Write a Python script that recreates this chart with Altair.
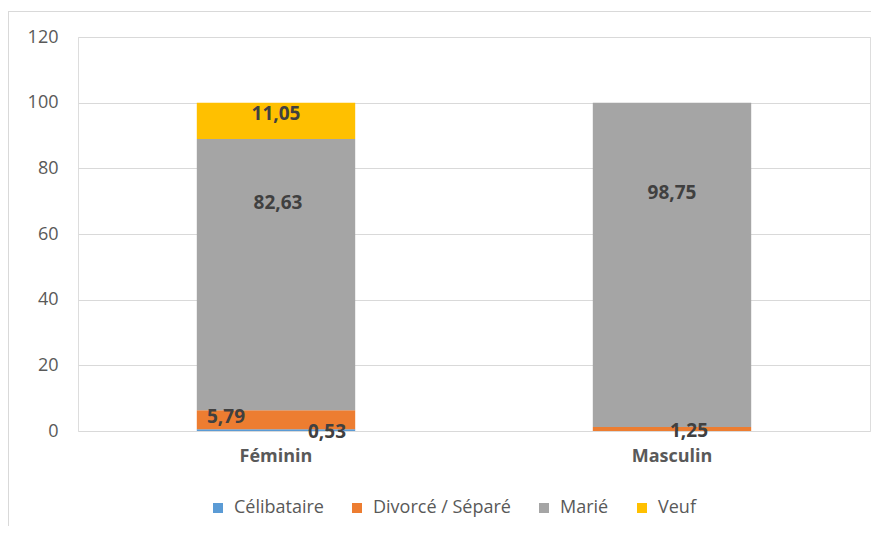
import altair as alt
import pandas as pd

# ---- data ----
genres = ["Féminin", "Masculin"]
statuts = ["Célibataire", "Divorcé / Séparé", "Marié", "Veuf"]
feminin = [0.53, 5.79, 82.63, 11.05]
masculin = [0.0, 1.25, 98.75, 0.0]
couleurs = ["#5B9BD5", "#ED7D31", "#A5A5A5", "#FFC000"]

# data labels (text and where they sit, as placed in the original chart)
label_genre = ["Féminin", "Féminin", "Féminin", "Féminin", "Masculin", "Masculin"]
label_text = ["0,53", "5,79", "82,63", "11,05", "98,75", "1,25"]
label_anchor = [-0.3, 4.3, 69.4, 96.6, 72.5, 0.0]
label_shift = [51, -50, 2, 0, 0, 17]

rows = []
for g, vals in zip(genres, [feminin, masculin]):
    for i, (s, v) in enumerate(zip(statuts, vals)):
        rows.append({"genre": g, "statut": s, "valeur": v, "ordre": i})
bars_df = pd.DataFrame(rows)

labels_df = pd.DataFrame({
    "idx": list(range(len(label_text))),
    "genre": label_genre,
    "texte": label_text,
    "pos": label_anchor,
})

FONT = "Open Sans"

x_enc = alt.X("genre:N", sort=genres, title=None,
              scale=alt.Scale(paddingInner=0, paddingOuter=0),
              axis=alt.Axis(labelAngle=0, ticks=False, domain=False,
                            labelFontWeight="bold", labelFontSize=18,
                            labelColor="#595959", labelPadding=16,
                            labelFont=FONT))

y_scale = alt.Scale(domain=[0, 120], nice=False)

bars = alt.Chart(bars_df).mark_bar(width=alt.RelativeBandSize(0.4)).encode(
    x=x_enc,
    y=alt.Y("valeur:Q", stack="zero", scale=y_scale, title=None,
            axis=alt.Axis(values=[0, 20, 40, 60, 80, 100, 120], ticks=False,
                          domain=False, grid=True, gridColor="#D9D9D9",
                          labelFontSize=18, labelColor="#595959",
                          labelPadding=20, labelFont=FONT)),
    color=alt.Color("statut:N", sort=statuts,
                    scale=alt.Scale(domain=statuts, range=couleurs),
                    legend=alt.Legend(title=None, orient="none", direction="horizontal",
                                      legendX=131, legendY=462,
                                      symbolType="square", symbolSize=100,
                                      symbolStrokeWidth=0,
                                      labelFontSize=18, labelColor="#595959",
                                      labelFont=FONT, labelOffset=7,
                                      columnPadding=24, padding=0)),
    order=alt.Order("ordre:Q", sort="ascending"),
)

label_layers = []
for i in range(len(label_text)):
    label_layers.append(
        alt.Chart(labels_df).transform_filter(alt.datum.idx == i)
        .mark_text(fontWeight="bold", fontSize=19, color="#404040", font=FONT,
                   dx=label_shift[i], baseline="middle")
        .encode(
            x=alt.X("genre:N", sort=genres),
            y=alt.Y("pos:Q", scale=y_scale),
            text="texte:N",
        )
    )

frame_v = alt.Chart(bars_df).mark_rule(color="#D9D9D9", strokeWidth=1).encode(
    x=alt.value(-69.5), y=alt.value(-26), y2=alt.value(600))
frame_h = alt.Chart(bars_df).mark_rule(color="#D9D9D9", strokeWidth=1).encode(
    x=alt.value(-69.5), x2=alt.value(900), y=alt.value(-25.5))

chart = alt.layer(bars, *label_layers, frame_v, frame_h).properties(
    width=792, height=394,
    padding={"left": 70, "top": 29, "right": 1, "bottom": 95},
    autosize=alt.AutoSizeParams(type="none"),
).configure_view(stroke=None).configure(background="white")

chart.save("out.html", embed_options={"renderer": "svg", "actions": False})
